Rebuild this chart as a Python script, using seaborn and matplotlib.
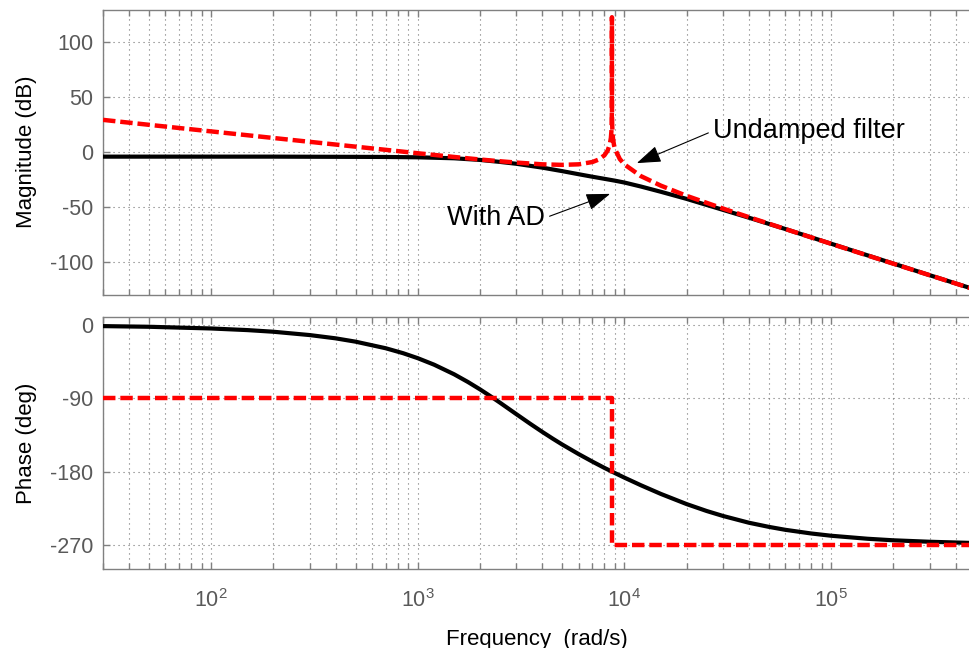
import numpy as np
import pandas as pd
import matplotlib
matplotlib.use("Agg")
import matplotlib.pyplot as plt
from matplotlib.ticker import FixedLocator, FixedFormatter, LogLocator, NullFormatter
import seaborn as sns

# Frequency grid (rad/s) for the actively damped magnitude
freq_ad = [30, 50, 100, 200, 300, 500, 700, 1000, 1500, 2000, 2500, 3000, 4000,
           5000, 6000, 7000, 8000, 9000, 1e4, 1.2e4, 1.5e4, 2e4, 3e4, 4e4, 6e4,
           1e5, 1.5e5, 2e5, 3e5, 4.7e5]
mag_ad = [-4.0, -4.0, -4.0, -4.0, -4.1, -4.2, -4.3, -4.6, -5.5, -7.0, -8.8, -10.5,
          -14.0, -17.2, -20.0, -22.3, -24.2, -25.9, -27.6, -31.2, -36.0, -42.5,
          -52.5, -59.6, -69.9, -83.3, -93.9, -101.4, -112.0, -123.6]

# Phase of the actively damped response
freq_ad_ph = [30, 50, 100, 150, 200, 300, 400, 500, 700, 850, 1000, 1200, 1500,
              1750, 2000, 2250, 2500, 3000, 3500, 4000, 4500, 5000, 6000, 7000,
              8000, 9000, 1e4, 1.2e4, 1.5e4, 2e4, 2.5e4, 3e4, 4e4, 5e4, 6e4, 8e4,
              1e5, 1.5e5, 2e5, 3e5, 4.7e5]
phase_ad = [-1.2, -2.0, -4.1, -6.1, -8.1, -12.2, -16.2, -20.3, -28.4, -34.5, -40.6,
            -48.6, -60.4, -69.9, -78.9, -87.4, -95.3, -109.4, -121.2, -131.1,
            -139.5, -146.7, -158.4, -167.7, -175.4, -181.8, -187.4, -196.7, -207.4,
            -219.9, -228.4, -234.5, -242.8, -247.9, -251.5, -256.0, -258.8, -262.5,
            -264.4, -266.2, -267.6]

# Undamped filter: magnitude with the resonance peak near 8.7e3 rad/s
freq_und = [30, 50, 100, 200, 300, 500, 700, 1000, 1500, 2000, 2500, 3000, 4000,
            5000, 6000, 7000, 7500, 8000, 8300, 8500, 8600, 8650, 8680, 8695, 8700,
            8705, 8720, 8750, 8800, 8900, 9000, 9500, 1e4, 1.2e4, 1.5e4, 2e4, 3e4,
            4e4, 6e4, 1e5, 1.5e5, 2e5, 3e5, 4.7e5]
mag_und = [29.5, 25.0, 19.0, 13.0, 9.5, 5.1, 2.2, -0.9, -4.3, -6.6, -8.2, -9.4,
           -11.0, -11.5, -11.0, -8.9, -6.7, -2.8, 1.6, 7.3, 13.1, 19.1, 27.0, 39.0,
           123.0, 39.0, 26.9, 18.9, 12.8, 6.7, 3.0, -6.2, -11.1, -21.7, -30.4,
           -39.7, -51.3, -59.1, -69.9, -83.4, -94.0, -101.5, -112.0, -123.7]
freq_und_ph = [30, 8700, 8700, 4.7e5]
phase_und = [-90, -90, -270, -270]

mag_ticks = [-100, -50, 0, 50, 100]
phase_ticks = [-270, -180, -90, 0]
x_ticks = [1e2, 1e3, 1e4, 1e5]
x_tick_labels = ["$10^{2}$", "$10^{3}$", "$10^{4}$", "$10^{5}$"]

df_ad = pd.DataFrame({"freq": freq_ad, "mag": mag_ad})
df_ad_ph = pd.DataFrame({"freq": freq_ad_ph, "phase": phase_ad})
df_und = pd.DataFrame({"freq": freq_und, "mag": mag_und})
df_und_ph = pd.DataFrame({"freq": freq_und_ph, "phase": phase_und})

sns.set_theme(style="ticks")
plt.rcParams["font.family"] = ["Liberation Sans", "DejaVu Sans"]
plt.rcParams["mathtext.fontset"] = "custom"
plt.rcParams["mathtext.rm"] = "Liberation Sans"
plt.rcParams["mathtext.default"] = "regular"
plt.rcParams["axes.unicode_minus"] = False

fig = plt.figure(figsize=(9.7, 6.48), dpi=100)
fig.patch.set_facecolor("white")
ax_mag = fig.add_axes([0.1062, 0.5448, 0.8938, 0.4405])
ax_ph = fig.add_axes([0.1062, 0.1215, 0.8938, 0.3893], sharex=ax_mag)

black_kw = dict(color="black", lw=3.0, estimator=None, sort=False, zorder=3)
red_kw = dict(color="#ff0000", lw=3.2, linestyle=(0, (2.8, 1.1)),
              estimator=None, sort=False, zorder=4)

sns.lineplot(data=df_ad, x="freq", y="mag", ax=ax_mag, **black_kw)
sns.lineplot(data=df_und, x="freq", y="mag", ax=ax_mag, **red_kw)
sns.lineplot(data=df_ad_ph, x="freq", y="phase", ax=ax_ph, **black_kw)
sns.lineplot(data=df_und_ph, x="freq", y="phase", ax=ax_ph, **red_kw)

grid_kw = dict(linestyle=(0, (1, 3.5)), color="0.45", lw=0.8)
for ax in (ax_mag, ax_ph):
    ax.set_xscale("log")
    ax.set_xlim(30, 4.7e5)
    ax.set_axisbelow(True)
    ax.grid(True, which="major", axis="both", **grid_kw)
    ax.grid(True, which="minor", axis="x", **grid_kw)
    ax.tick_params(which="both", direction="in", top=True, right=False,
                   color="0.5", labelcolor="0.35", width=1.0)
    ax.tick_params(which="major", length=5)
    ax.tick_params(which="minor", length=4.5)
    ax.tick_params(axis="y", labelsize=15.5, pad=7)
    ax.tick_params(axis="x", labelsize=15.5, pad=14)
    for side in ("left", "bottom", "top"):
        ax.spines[side].set_color("0.5")
        ax.spines[side].set_linewidth(1.0)
    ax.spines["right"].set_visible(False)

ax_ph.xaxis.set_major_locator(FixedLocator(x_ticks))
ax_ph.xaxis.set_major_formatter(FixedFormatter(x_tick_labels))
ax_ph.xaxis.set_minor_locator(LogLocator(base=10, subs=np.arange(2, 10), numticks=100))
ax_ph.xaxis.set_minor_formatter(NullFormatter())
ax_mag.tick_params(labelbottom=False)

ax_mag.set_ylim(-130, 130)
ax_mag.set_yticks(mag_ticks)
ax_ph.set_ylim(-300, 10)
ax_ph.set_yticks(phase_ticks)

ax_mag.set_xlabel("")
ax_mag.set_ylabel("Magnitude (dB)", fontsize=16, color="black")
ax_ph.set_ylabel("Phase (deg)", fontsize=16, color="black")
ax_ph.set_xlabel("Frequency  (rad/s)", fontsize=16, color="black")
ax_mag.yaxis.set_label_coords(-0.076, 0.5)
ax_ph.yaxis.set_label_coords(-0.076, 0.5)
ax_ph.xaxis.set_label_coords(0.5, -0.236)

arrow_style = "-|>,head_length=1.0,head_width=0.35"
ax_mag.annotate("Undamped filter", xy=(1.148e4, -9.9), xytext=(2.68e4, 13.0),
                ha="left", va="baseline", fontsize=19.5, color="black", zorder=6,
                arrowprops=dict(arrowstyle=arrow_style, color="black", lw=0.8,
                                mutation_scale=15, shrinkA=1, shrinkB=0,
                                relpos=(0, 0.5)))
ax_mag.annotate("With AD", xy=(8.53e3, -37.9), xytext=(1.387e3, -66.2),
                ha="left", va="baseline", fontsize=19.5, color="black", zorder=6,
                arrowprops=dict(arrowstyle=arrow_style, color="black", lw=0.8,
                                mutation_scale=15, shrinkA=1, shrinkB=0,
                                relpos=(1, 0.5)))

fig.savefig("out.png", dpi=100, facecolor="white")
